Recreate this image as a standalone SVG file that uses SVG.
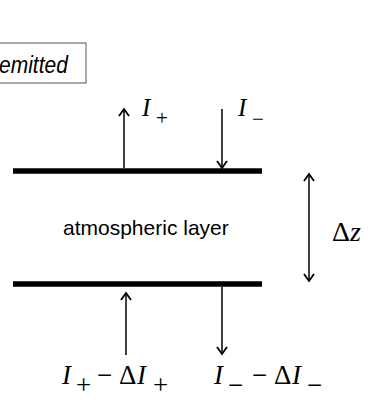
<svg xmlns="http://www.w3.org/2000/svg" width="369" height="401" viewBox="0 0 369 401">
  <style>
    .bar { stroke: #000; stroke-width: 5.5; }
    .arr { stroke: #000; stroke-width: 1.5; fill: none; }
    .sans { font-family: "Liberation Sans", Arial, sans-serif; fill: #000; }
    .math { font-family: "Liberation Serif", "Times New Roman", serif; fill: #000; }
    .it { font-style: italic; }
  </style>
  <defs>
    <marker id="head" markerUnits="userSpaceOnUse" markerWidth="20" markerHeight="20" viewBox="-10 -10 20 20" refX="0" refY="0" orient="auto-start-reverse">
      <path d="M-7,-5 L0,0 L-7,5" fill="none" stroke="#000" stroke-width="1.8"/>
    </marker>
  </defs>
  <rect width="369" height="401" fill="#fff"/>

  <g id="emitted-box">
    <rect x="-10" y="43" width="96" height="40" fill="#fff" stroke="#555" stroke-width="1"/>
    <text class="sans it" transform="translate(-1,73) scale(1,1.15)" x="0" y="0" font-size="21">emitted</text>
  </g>

  <g id="layer">
    <line class="bar" x1="13" y1="171" x2="262" y2="171"/>
    <line class="bar" x1="13" y1="284" x2="262" y2="284"/>
    <text class="sans" x="63" y="235" font-size="21">atmospheric layer</text>
  </g>

  <g id="connectors">
    <line class="arr" x1="124" y1="168" x2="124" y2="109" marker-end="url(#head)"/>
    <line class="arr" x1="222" y1="109" x2="222" y2="168" marker-end="url(#head)"/>
    <line class="arr" x1="126" y1="355" x2="126" y2="293" marker-end="url(#head)"/>
    <line class="arr" x1="222" y1="287" x2="222" y2="354" marker-end="url(#head)"/>
    <line class="arr" x1="309" y1="174" x2="309" y2="281" marker-start="url(#head)" marker-end="url(#head)"/>
  </g>

  <g id="label-top-plus">
    <text class="math" font-size="25"><tspan class="it" x="142" y="116">I</tspan><tspan x="156" y="125" font-size="21">+</tspan></text>
  </g>
  <g id="label-top-minus">
    <text class="math" font-size="25"><tspan class="it" x="238" y="116">I</tspan><tspan x="252" y="126" font-size="21">−</tspan></text>
  </g>

  <g id="label-dz">
    <text class="math" x="332" y="241" font-size="28">Δ<tspan class="it">z</tspan></text>
  </g>

  <g id="label-bottom-plus">
    <text class="math" font-size="27"><tspan class="it" x="62" y="384">I</tspan><tspan x="76" y="394">+</tspan><tspan x="97" y="384">−</tspan><tspan x="119" y="384">Δ</tspan><tspan class="it" x="137" y="384">I</tspan><tspan x="153" y="394">+</tspan></text>
  </g>
  <g id="label-bottom-minus">
    <text class="math" font-size="27"><tspan class="it" x="214" y="384">I</tspan><tspan x="228" y="394">−</tspan><tspan x="252" y="384">−</tspan><tspan x="274" y="384">Δ</tspan><tspan class="it" x="292" y="384">I</tspan><tspan x="307" y="394">−</tspan></text>
  </g>
</svg>
